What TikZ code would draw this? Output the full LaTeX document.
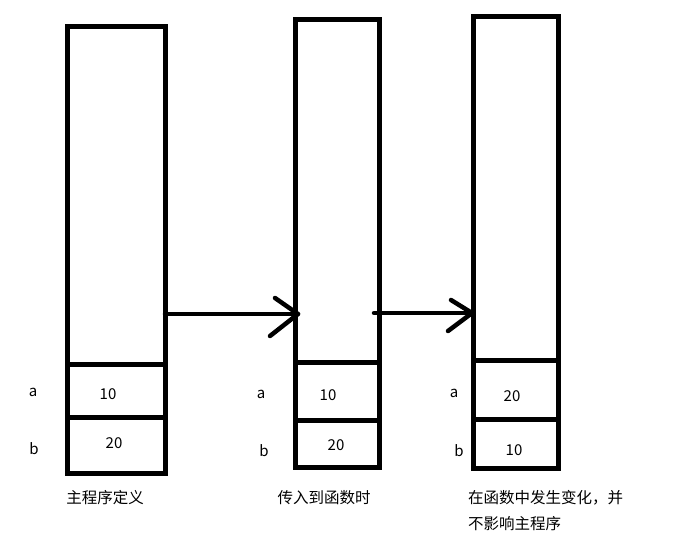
\documentclass[tikz,border=0pt]{standalone}
\usepackage{fontspec}
\setmainfont{Noto Sans CJK SC}
\begin{document}
\begin{tikzpicture}[x=1pt,y=-1pt,
  cell/.style={line width=5pt, line join=miter},
  arr/.style={line width=4.5pt, line cap=round, line join=round},
  lbl/.style={inner sep=0pt, font=\fontsize{15}{18}\selectfont},
  captxt/.style={inner sep=0pt, font=\fontsize{15.5}{26}\selectfont}]
\useasboundingbox (0,0) rectangle (685,553);
% box 1
\draw[cell] (67.5,27) rectangle (165,473);
\draw[cell] (67.5,364) -- (167,364);
\draw[cell] (67.5,417.5) -- (165,417.5);
% box 2
\draw[cell] (295,20) rectangle (379.5,467.5);
\draw[cell] (295,362.5) -- (379.5,362.5);
\draw[cell] (295,420.5) -- (379.5,420.5);
% box 3
\draw[cell] (473,17) rectangle (558,468);
\draw[cell] (473,360.5) -- (561,360.5);
\draw[cell] (473,419) -- (558,419);
% connector anchors
\coordinate (s1) at (165,314);
\coordinate (t1) at (298,314);
\coordinate (u1) at (275,298);
\coordinate (l1) at (270,336);
\coordinate (s2) at (374,313);
\coordinate (t2) at (472,313);
\coordinate (u2) at (451,300);
\coordinate (l2) at (448,331);
\draw[arr] (s1) -- (t1);
\draw[arr] (u1) -- (t1) -- (l1);
\draw[arr] (s2) -- (t2);
\draw[arr] (u2) -- (t2) -- (l2);
% labels box 1
\node[lbl] (a1) at (33,392) {a};
\node[lbl] (b1) at (34,449) {b};
\node[lbl] (va1) at (108,394) {10};
\node[lbl] (vb1) at (114,443) {20};
\node[captxt] (c1) at (105,498) {主程序定义};
% labels box 2
\node[lbl] (a2) at (261,394) {a};
\node[lbl] (b2) at (264,451) {b};
\node[lbl] (va2) at (328,395) {10};
\node[lbl] (vb2) at (336,445) {20};
\node[captxt] (c2) at (324,498) {传入到函数时};
% labels box 3
\node[lbl] (a3) at (454,393) {a};
\node[lbl] (b3) at (459,451) {b};
\node[lbl] (va3) at (512,396) {20};
\node[lbl] (vb3) at (514,450) {10};
\node[captxt, anchor=west] (c3a) at (468,498) {在函数中发生变化，并};
\node[captxt, anchor=west] (c3b) at (468,524) {不影响主程序};
\end{tikzpicture}
\end{document}
